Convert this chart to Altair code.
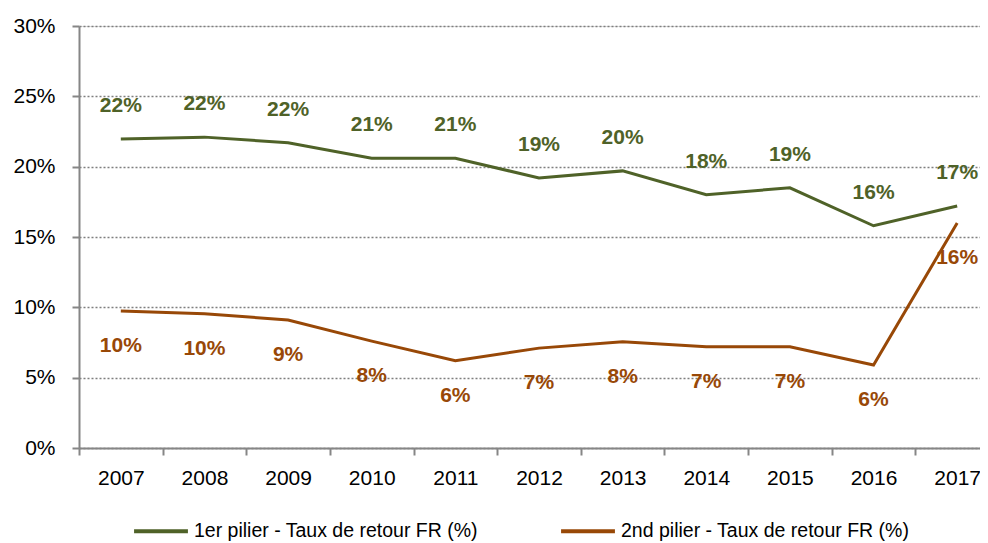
import altair as alt
import pandas as pd

years = ["2007", "2008", "2009", "2010", "2011", "2012", "2013", "2014", "2015", "2016", "2017"]
pilier1 = [21.96, 22.1, 21.7, 20.6, 20.6, 19.2, 19.7, 18.0, 18.5, 15.8, 17.2]
pilier2 = [9.74, 9.55, 9.1, 7.6, 6.2, 7.1, 7.55, 7.2, 7.2, 5.9, 16.0]
labels1 = ["22%", "22%", "22%", "21%", "21%", "19%", "20%", "18%", "19%", "16%", "17%"]
labels2 = ["10%", "10%", "9%", "8%", "6%", "7%", "8%", "7%", "7%", "6%", "16%"]
series = ["1er pilier - Taux de retour FR (%)", "2nd pilier - Taux de retour FR (%)"]
colors = ["#4F6228", "#984807"]

FONT = "Liberation Sans, Arial, sans-serif"

rows = []
for i, y in enumerate(years):
    rows.append({"year": y, "value": pilier1[i], "label": labels1[i], "series": series[0]})
    rows.append({"year": y, "value": pilier2[i], "label": labels2[i], "series": series[1]})
df = pd.DataFrame(rows)

W = 901
H = 422
STEP = 920 / 11

x = alt.X(
    "year:O",
    sort=years,
    scale=alt.Scale(type="point", padding=0.5, range=[0, 920]),
    axis=alt.Axis(
        title=None,
        labelAngle=0,
        labelFont=FONT,
        labelFontSize=21,
        labelColor="#000000",
        labelPadding=12,
        tickOffset=-STEP / 2,
        labelOffset=STEP / 2,
        tickSize=7,
        tickColor="#868686",
        tickWidth=2,
        domainColor="#868686",
        domainWidth=2,
        grid=False,
    ),
)
y = alt.Y(
    "value:Q",
    scale=alt.Scale(domain=[0, 30], nice=False),
    axis=alt.Axis(
        title=None,
        values=[0, 5, 10, 15, 20, 25, 30],
        labelExpr="datum.value + '%'",
        labelFont=FONT,
        labelFontSize=21,
        labelColor="#000000",
        labelPadding=17,
        tickSize=7,
        tickColor="#868686",
        tickWidth=2,
        domainColor="#868686",
        domainWidth=2,
        grid=True,
        gridColor="#7f7f7f",
        gridDash=[2, 2],
        gridWidth=1.5,
    ),
)
color = alt.Color(
    "series:N",
    scale=alt.Scale(domain=series, range=colors),
    legend=alt.Legend(
        title=None,
        orient="none",
        direction="horizontal",
        legendX=53,
        legendY=476,
        symbolType="stroke",
        symbolSize=2900,
        symbolStrokeWidth=4,
        labelFont=FONT,
        labelFontSize=19.5,
        labelColor="#000000",
        labelLimit=400,
        labelOffset=4,
        columnPadding=75,
    ),
)

lines = alt.Chart(df).mark_line(strokeWidth=3).encode(x=x, y=y, color=color)

t1 = alt.Chart(df).transform_filter(alt.datum.series == series[0]).mark_text(
    font=FONT, fontSize=21, fontWeight="bold", dy=-33, color=colors[0]
).encode(x=x, y=y, text="label:N")
t2 = alt.Chart(df).transform_filter(alt.datum.series == series[1]).mark_text(
    font=FONT, fontSize=21, fontWeight="bold", dy=35, color=colors[1]
).encode(x=x, y=y, text="label:N")

chart = alt.layer(lines, t1, t2).properties(
    width=W,
    height=H,
    autosize=alt.AutoSizeParams(type="none"),
    padding={"left": 71, "top": 18, "right": 0, "bottom": 95},
).configure_view(stroke=None).configure(background="white")

chart.save("out.html", embed_options={"renderer": "svg", "actions": False})
